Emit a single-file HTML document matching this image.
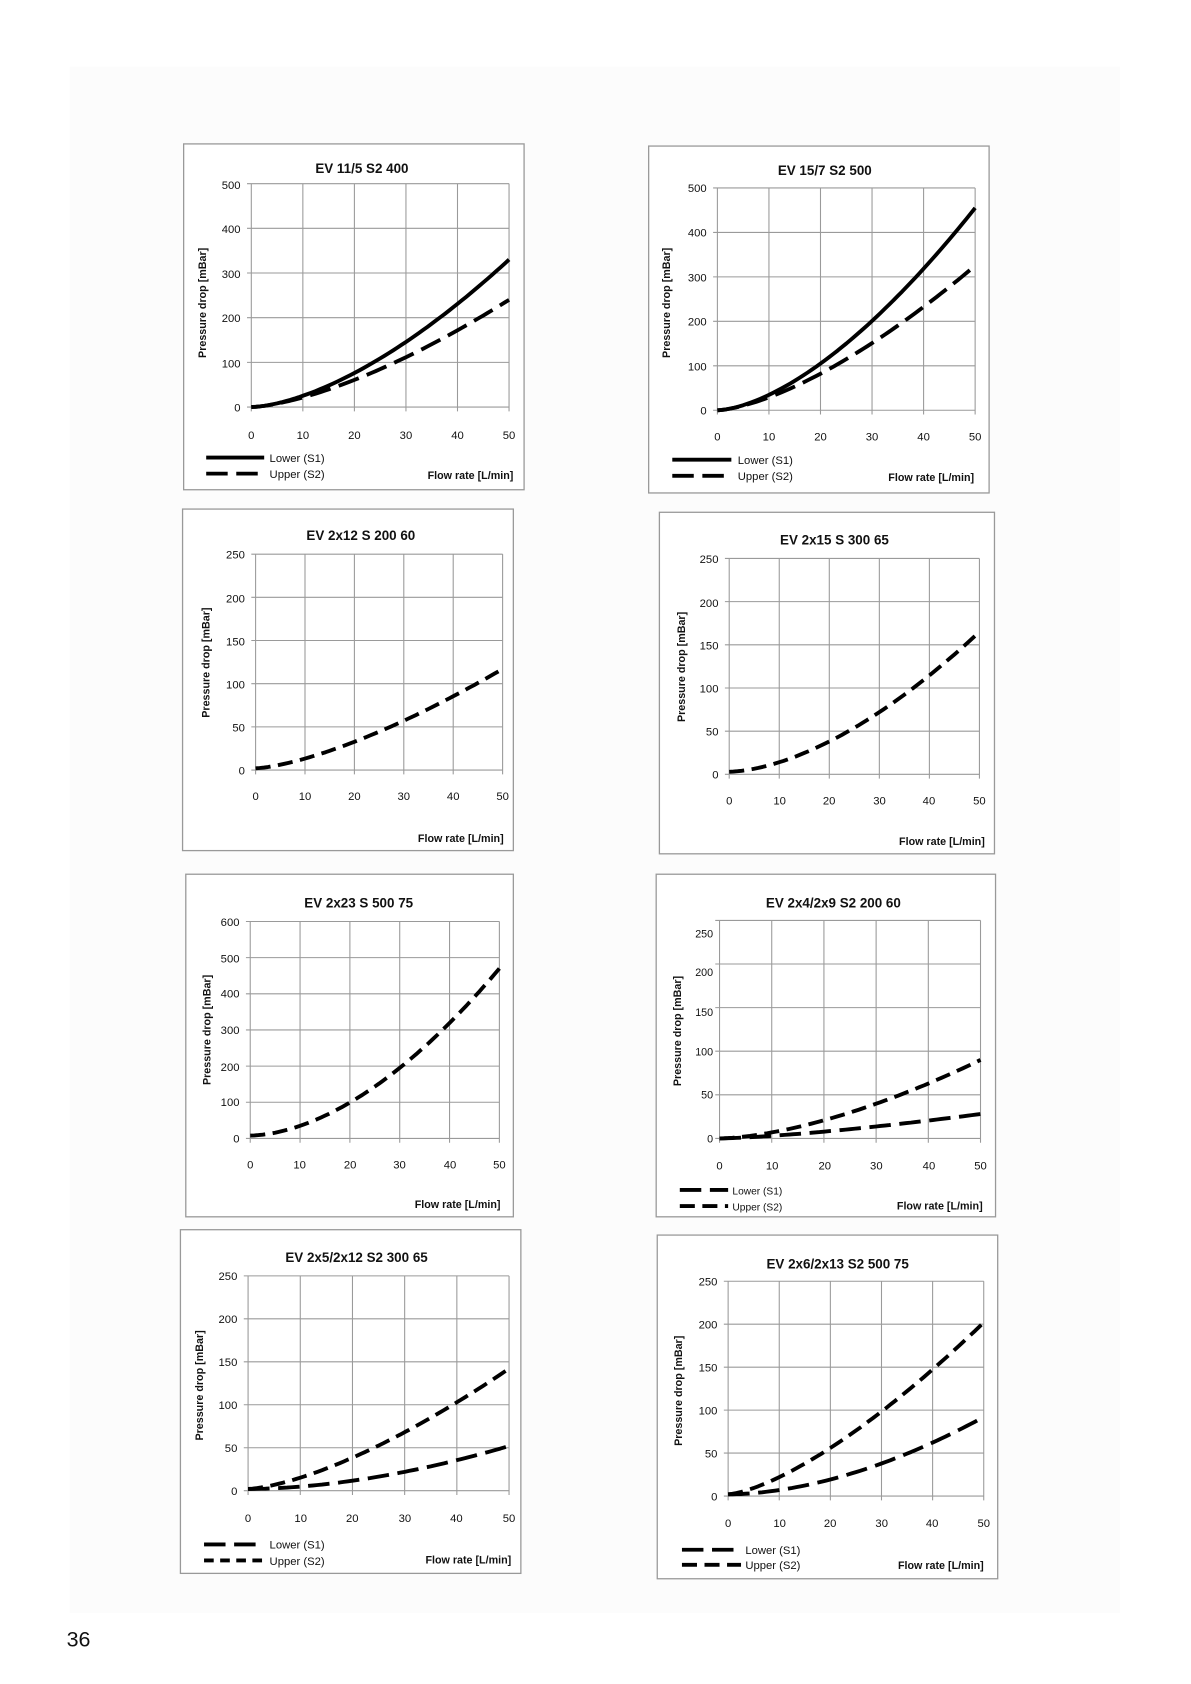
<!DOCTYPE html>
<html><head><meta charset="utf-8"><style>
html,body{margin:0;padding:0;background:#fff}
svg{display:block}
text{font-family:"Liberation Sans",sans-serif;fill:#111}
.t{font-size:12.5px;font-weight:bold;text-anchor:middle}
.k{font-size:10.5px}
.r{text-anchor:end}
.m{text-anchor:middle}
.a{font-size:10px;font-weight:bold}
.l{font-size:10.5px}
</style></head><body>
<svg id="s" width="1191" height="1684" viewBox="0 0 1109 1568" preserveAspectRatio="none" xmlns="http://www.w3.org/2000/svg">
<rect x="0" y="0" width="1109" height="1568" fill="#fff"/>
<rect x="65" y="62" width="978" height="1440" fill="#fcfcfc"/>
<g id="g"></g>
<text x="62" y="1533" style="font-size:20px">36</text>

<!-- C1 -->
<text class="t" x="337" y="161">EV 11/5 S2 400</text>
<g class="k r"><text x="224" y="383">0</text><text x="224" y="342">100</text><text x="224" y="300">200</text><text x="224" y="259">300</text><text x="224" y="217">400</text><text x="224" y="176">500</text></g>
<g class="k m"><text x="234" y="409">0</text><text x="282" y="409">10</text><text x="330" y="409">20</text><text x="378" y="409">30</text><text x="426" y="409">40</text><text x="474" y="409">50</text></g>
<text class="a m" transform="translate(192,282) rotate(-90)">Pressure drop [mBar]</text>
<text class="l" x="251" y="430">Lower (S1)</text><text class="l" x="251" y="445">Upper (S2)</text>
<text class="a r" x="478" y="446">Flow rate [L/min]</text>

<!-- C2 -->
<text class="t" x="768" y="163">EV 15/7 S2 500</text>
<g class="k r"><text x="658" y="386">0</text><text x="658" y="345">100</text><text x="658" y="303">200</text><text x="658" y="262">300</text><text x="658" y="220">400</text><text x="658" y="179">500</text></g>
<g class="k m"><text x="668" y="410">0</text><text x="716" y="410">10</text><text x="764" y="410">20</text><text x="812" y="410">30</text><text x="860" y="410">40</text><text x="908" y="410">50</text></g>
<text class="a m" transform="translate(624,282) rotate(-90)">Pressure drop [mBar]</text>
<text class="l" x="687" y="432">Lower (S1)</text><text class="l" x="687" y="447">Upper (S2)</text>
<text class="a r" x="907" y="448">Flow rate [L/min]</text>

<!-- C3 -->
<text class="t" x="336" y="503">EV 2x12 S 200 60</text>
<g class="k r"><text x="228" y="721">0</text><text x="228" y="681">50</text><text x="228" y="641">100</text><text x="228" y="601">150</text><text x="228" y="561">200</text><text x="228" y="520">250</text></g>
<g class="k m"><text x="238" y="745">0</text><text x="284" y="745">10</text><text x="330" y="745">20</text><text x="376" y="745">30</text><text x="422" y="745">40</text><text x="468" y="745">50</text></g>
<text class="a m" transform="translate(195,617) rotate(-90)">Pressure drop [mBar]</text>
<text class="a r" x="469" y="784">Flow rate [L/min]</text>

<!-- C4 -->
<text class="t" x="777" y="507">EV 2x15 S 300 65</text>
<g class="k r"><text x="669" y="725">0</text><text x="669" y="685">50</text><text x="669" y="645">100</text><text x="669" y="605">150</text><text x="669" y="565">200</text><text x="669" y="524">250</text></g>
<g class="k m"><text x="679" y="749">0</text><text x="726" y="749">10</text><text x="772" y="749">20</text><text x="819" y="749">30</text><text x="865" y="749">40</text><text x="912" y="749">50</text></g>
<text class="a m" transform="translate(638,621) rotate(-90)">Pressure drop [mBar]</text>
<text class="a r" x="917" y="787">Flow rate [L/min]</text>

<!-- C5 -->
<text class="t" x="334" y="845">EV 2x23 S 500 75</text>
<g class="k r"><text x="223" y="1064">0</text><text x="223" y="1030">100</text><text x="223" y="997">200</text><text x="223" y="963">300</text><text x="223" y="929">400</text><text x="223" y="896">500</text><text x="223" y="862">600</text></g>
<g class="k m"><text x="233" y="1088">0</text><text x="279" y="1088">10</text><text x="326" y="1088">20</text><text x="372" y="1088">30</text><text x="419" y="1088">40</text><text x="465" y="1088">50</text></g>
<text class="a m" transform="translate(196,959) rotate(-90)">Pressure drop [mBar]</text>
<text class="a r" x="466" y="1125">Flow rate [L/min]</text>

<!-- C6 -->
<text class="t" x="776" y="845">EV 2x4/2x9 S2 200 60</text>
<g class="k r" style="font-size:10px"><text x="664" y="1064">0</text><text x="664" y="1023">50</text><text x="664" y="983">100</text><text x="664" y="946">150</text><text x="664" y="909">200</text><text x="664" y="873">250</text></g>
<g class="k m"><text x="670" y="1089">0</text><text x="719" y="1089">10</text><text x="768" y="1089">20</text><text x="816" y="1089">30</text><text x="865" y="1089">40</text><text x="913" y="1089">50</text></g>
<text class="a m" transform="translate(634,960) rotate(-90)">Pressure drop [mBar]</text>
<text class="l" style="font-size:9.5px" x="682" y="1112">Lower (S1)</text><text class="l" style="font-size:9.5px" x="682" y="1127">Upper (S2)</text>
<text class="a r" x="915" y="1126">Flow rate [L/min]</text>

<!-- C7 -->
<text class="t" x="332" y="1175">EV 2x5/2x12 S2 300 65</text>
<g class="k r"><text x="221" y="1392">0</text><text x="221" y="1352">50</text><text x="221" y="1312">100</text><text x="221" y="1272">150</text><text x="221" y="1232">200</text><text x="221" y="1192">250</text></g>
<g class="k m"><text x="231" y="1417">0</text><text x="280" y="1417">10</text><text x="328" y="1417">20</text><text x="377" y="1417">30</text><text x="425" y="1417">40</text><text x="474" y="1417">50</text></g>
<text class="a m" transform="translate(189,1290) rotate(-90)">Pressure drop [mBar]</text>
<text class="l" x="251" y="1442">Lower (S1)</text><text class="l" x="251" y="1457">Upper (S2)</text>
<text class="a r" x="476" y="1456">Flow rate [L/min]</text>

<!-- C8 -->
<text class="t" x="780" y="1181">EV 2x6/2x13 S2 500 75</text>
<g class="k r"><text x="668" y="1397">0</text><text x="668" y="1357">50</text><text x="668" y="1317">100</text><text x="668" y="1277">150</text><text x="668" y="1237">200</text><text x="668" y="1197">250</text></g>
<g class="k m"><text x="678" y="1422">0</text><text x="726" y="1422">10</text><text x="773" y="1422">20</text><text x="821" y="1422">30</text><text x="868" y="1422">40</text><text x="916" y="1422">50</text></g>
<text class="a m" transform="translate(635,1295) rotate(-90)">Pressure drop [mBar]</text>
<text class="l" x="694" y="1447">Lower (S1)</text><text class="l" x="694" y="1461">Upper (S2)</text>
<text class="a r" x="916" y="1461">Flow rate [L/min]</text>
</svg>
<script>
var NS="http://www.w3.org/2000/svg",g=document.getElementById("g");
function el(n,a){var e=document.createElementNS(NS,n);for(var k in a)e.setAttribute(k,a[k]);g.appendChild(e);return e;}
var SOL="none",D1="14 7",D2="9 6",D3="20 8";
var C=[
{b:[171,134,488,456],x0:234,x1:474,y0:379,y1:171,ym:500,ny:5,s:[[0,330,1.6,SOL],[0,240,1.5,D3]],lg:[192,246,426,441,SOL,D3]},
{b:[604,136,921,459],x0:668,x1:908,y0:382,y1:175,ym:500,ny:5,s:[[0,455,1.6,SOL],[0,325,1.5,D3]],lg:[626,681,428,443,SOL,D3]},
{b:[170,474,478,792],x0:238,x1:468,y0:717,y1:516,ym:250,ny:5,s:[[2,117,1.44,D1]]},
{b:[614,477,926,795],x0:679,x1:912,y0:721,y1:520,ym:250,ny:5,s:[[3,165,1.67,D1]]},
{b:[173,814,478,1133],x0:233,x1:465,y0:1060,y1:858,ym:600,ny:6,s:[[8,470,1.77,D1]]},
{b:[611,814,927,1133],x0:670,x1:913,y0:1060,y1:857,ym:250,ny:5,s:[[0,90,1.6,D1],[0,28,1.4,D3]],lg:[633,678,1108,1123,D3,D1]},
{b:[168,1145,485,1465],x0:231,x1:474,y0:1388,y1:1188,ym:250,ny:5,s:[[2,142,1.47,D1],[2,52,1.8,D3]],lg:[190,246,1438,1453,D3,D2]},
{b:[612,1150,929,1470],x0:678,x1:916,y0:1393,y1:1193,ym:250,ny:5,s:[[2,202,1.43,D1],[2,92,1.8,D3]],lg:[635,690,1443,1457,D3,D1]}
];
C.forEach(function(c){
 var b=c.b;el("rect",{x:b[0],y:b[1],width:b[2]-b[0],height:b[3]-b[1],fill:"#fff",stroke:"#999","stroke-width":1.2});
 for(var i=0;i<=5;i++){var x=c.x0+(c.x1-c.x0)*i/5;el("line",{x1:x,y1:c.y1,x2:x,y2:c.y0+4,stroke:"#9a9a9a","stroke-width":1});}
 for(var j=0;j<=c.ny;j++){var y=c.y0-(c.y0-c.y1)*j/c.ny;el("line",{x1:c.x0-4,y1:y,x2:c.x1,y2:y,stroke:"#9a9a9a","stroke-width":1});}
 c.s.forEach(function(s){var d="";for(var k=0;k<=60;k++){var f=k/60,v=s[0]+(s[1]-s[0])*Math.pow(f,s[2]);var x=c.x0+(c.x1-c.x0)*f,y=c.y0-v/c.ym*(c.y0-c.y1);d+=(k?"L":"M")+x.toFixed(1)+" "+y.toFixed(1);}
  var a={d:d,fill:"none",stroke:"#000","stroke-width":3.6,"stroke-linejoin":"round"};if(s[3]!="none")a["stroke-dasharray"]=s[3];el("path",a);});
 if(c.lg){var L=c.lg;var a1={x1:L[0],y1:L[2],x2:L[1],y2:L[2],stroke:"#000","stroke-width":3.6};if(L[4]!="none")a1["stroke-dasharray"]=L[4];el("line",a1);
  el("line",{x1:L[0],y1:L[3],x2:L[1],y2:L[3],stroke:"#000","stroke-width":3.6,"stroke-dasharray":L[5]});}
});
</script>
</body></html>
